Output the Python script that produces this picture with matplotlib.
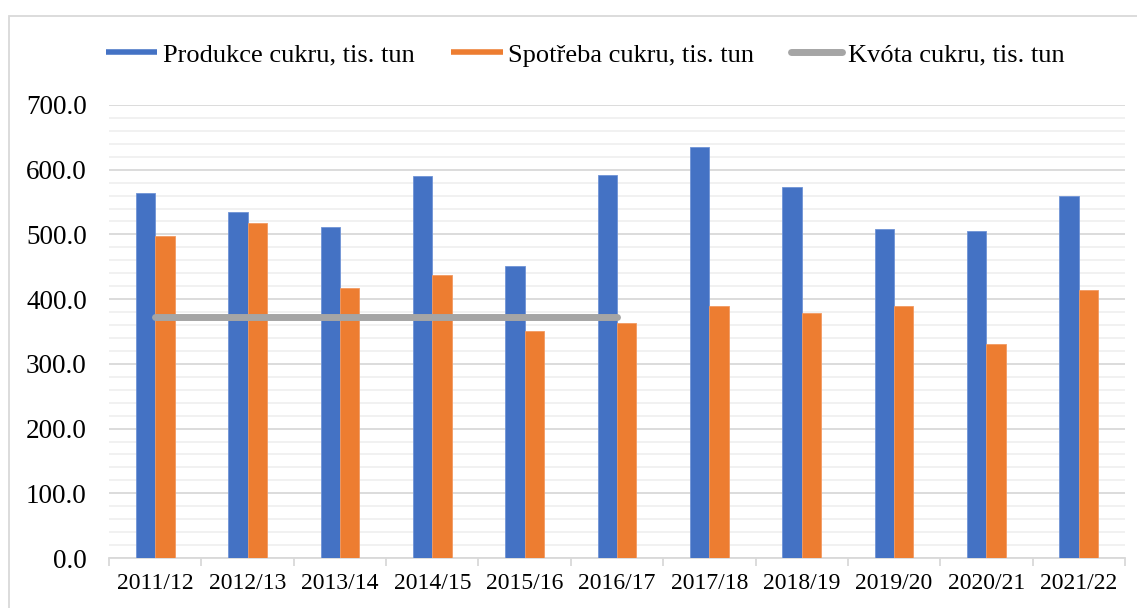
import matplotlib
matplotlib.use("Agg")
import matplotlib.pyplot as plt
from matplotlib.lines import Line2D
from matplotlib.patches import Rectangle
import numpy as np

categories = ["2011/12", "2012/13", "2013/14", "2014/15", "2015/16", "2016/17",
              "2017/18", "2018/19", "2019/20", "2020/21", "2021/22"]
produkce = [564, 535, 512, 590, 451, 592, 635, 573, 509, 505, 560]
spotreba = [498, 518, 417, 437, 351, 363, 390, 378, 390, 331, 414]
kvota = [372, 372, 372, 372, 372, 372]  # 2011/12 .. 2016/17

labels = ["Produkce cukru, tis. tun", "Spotřeba cukru, tis. tun", "Kvóta cukru, tis. tun"]
yticks = [0, 100, 200, 300, 400, 500, 600, 700]

BLUE = "#4472c4"
ORANGE = "#ed7d31"
GRAY = "#a5a5a5"

plt.rcParams['font.family'] = ['Liberation Serif', 'DejaVu Serif']

W, H = 1137, 608
fig = plt.figure(figsize=(W / 100, H / 100), dpi=100)
ax = fig.add_axes([109 / W, 1 - 558 / H, (1125 - 109) / W, (558 - 105) / H])

x = np.arange(len(categories))
bw = 0.21
ax.bar(x - bw / 2, produkce, width=bw, color=BLUE, edgecolor="#6f93d6", linewidth=0.6, zorder=3)
ax.bar(x + bw / 2, spotreba, width=bw, color=ORANGE, edgecolor="#f29a62", linewidth=0.6, zorder=3)
ax.plot(x[:len(kvota)], kvota, color=GRAY, lw=5, solid_capstyle="round", zorder=4)

ax.set_xlim(-0.5, len(categories) - 0.5)
ax.set_ylim(0, 700)
ax.set_yticks(yticks)
ax.set_yticklabels([f"{v:.1f}" for v in yticks], fontsize=19.5)
ax.set_yticks(np.arange(0, 701, 20), minor=True)
ax.tick_params(axis="y", which="both", length=0, pad=16)
ax.grid(axis="y", which="major", color="#d9d9d9", lw=1.3, zorder=0)
ax.grid(axis="y", which="minor", color="#f0f0f0", lw=1.3, zorder=0)

ax.set_xticks(x)
ax.set_xticklabels(categories, fontsize=17)
ax.set_xticks(np.arange(-0.5, len(categories)), minor=True)
ax.tick_params(axis="x", which="major", length=0, pad=11)
ax.tick_params(axis="x", which="minor", length=6, color="#d9d9d9", width=1.3)

for s in ["top", "right", "left"]:
    ax.spines[s].set_visible(False)
ax.spines["bottom"].set_color("#d9d9d9")
ax.spines["bottom"].set_linewidth(1.3)
ax.set_axisbelow(True)

handles = [
    Line2D([0], [0], color=BLUE, lw=4, solid_capstyle="butt"),
    Line2D([0], [0], color=ORANGE, lw=4, solid_capstyle="butt"),
    Line2D([0], [0], color=GRAY, lw=5, solid_capstyle="round"),
]
fig.legend(handles, labels, ncol=3, loc="center", bbox_to_anchor=(585 / W, 1 - 55 / H),
           frameon=False, fontsize=19, handlelength=1.95, handletextpad=0.2,
           columnspacing=1.4, borderpad=0, borderaxespad=0)

fig.patches.append(Rectangle((8.5 / W, -0.1), 1.2, 1 - 16 / H + 0.1, transform=fig.transFigure,
                             fill=False, edgecolor="#d9d9d9", lw=1.3))

fig.savefig("out.png", dpi=100)
